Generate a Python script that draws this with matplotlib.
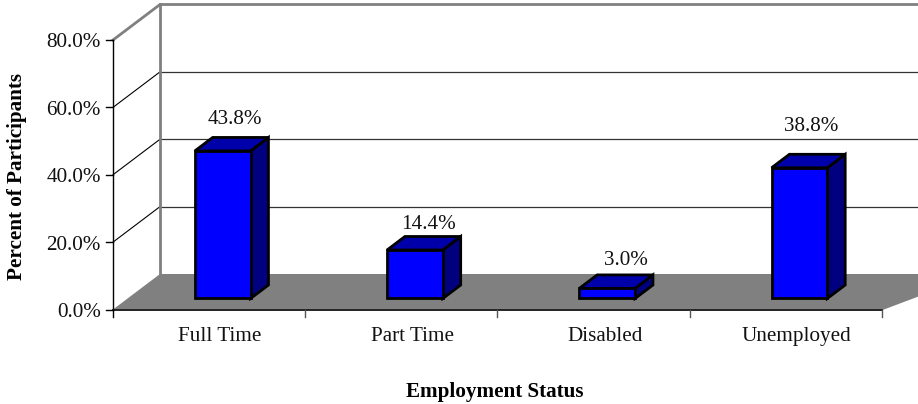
import matplotlib
matplotlib.use("Agg")
import matplotlib.pyplot as plt
from matplotlib.patches import Polygon

# data
categories = ["Full Time", "Part Time", "Disabled", "Unemployed"]
values = [43.8, 14.4, 3.0, 38.8]
yticks = [0, 20, 40, 60, 80]

plt.rcParams['font.family'] = ['Liberation Serif', 'DejaVu Serif']

# pixel layout of the fake 3d box
W, H = 918, 404
x0_px, x1_px = 113, 882
y0_px, y80_px = 309.5, 40
dep_x_px, dep_y_px = 47, 35.5

xs = (x1_px - x0_px) / len(categories)   # px per category
ys = (y0_px - y80_px) / 80.0             # px per percent
dx = dep_x_px / xs
dy = dep_y_px / ys
xmax = (W - x0_px) / xs

# label nudges in px, the labels do not sit at a fixed distance from the bars
label_dx = [-7, -5, 0, -7.5]
label_dy = [18, 12, 14.5, 28]

fig = plt.figure(figsize=(W / 100, H / 100), dpi=100)
ax = fig.add_axes([0, 0, 1, 1])
ax.set_xlim(-x0_px / xs, xmax)
ax.set_ylim((y0_px - H) / ys, y0_px / ys)
ax.axis('off')

n = len(categories)
GRAY = '#808080'
TXT = '#111111'
FS = 15.2


def proj(x, y, d):
    # d is depth, 0 front and 1 back
    return (x + d * dx, y + d * dy)


# floor
ax.add_patch(Polygon([proj(0, 0, 0), proj(n, 0, 0), proj(xmax, 0, (xmax - n) / dx), proj(xmax, 0, 1), proj(0, 0, 1)],
                     closed=True, fc=GRAY, ec='none', zorder=1))

# walls grid
for t in yticks[1:-1]:
    ax.plot(*zip(proj(0, t, 0), proj(0, t, 1)), color='black', lw=0.8, zorder=2)
    ax.plot(*zip(proj(0, t, 1), proj(xmax, t, 1)), color='#333333', lw=0.9, zorder=2)

top = yticks[-1]
ax.plot(*zip(proj(0, 0, 1), proj(0, top, 1)), color=GRAY, lw=2, zorder=2)
ax.plot(*zip(proj(0, top, 0), proj(0, top, 1), proj(xmax, top, 1)), color=GRAY, lw=2, zorder=2)
ax.plot(*zip(proj(n, 0, 0), proj(xmax, 0, (xmax - n) / dx)), color=GRAY, lw=1, zorder=2)

# axes in front
ax.plot([0, 0], [0, top], color='black', lw=1, zorder=3)
ax.plot([0, n], [0, 0], color='#222222', lw=1.4, zorder=3)
for t in yticks:
    ax.plot([-7 / xs, 0], [t, t], color='black', lw=1, zorder=3)
    ax.text(-12 / xs, t - 3 / ys, "%.1f%%" % t, ha='right', va='center', fontsize=FS, color=TXT)
for i in range(n + 1):
    ax.plot([i, i], [0, -7 / ys], color='black' if i == 0 else '#555555', lw=1, zorder=3)
for i, c in enumerate(categories):
    ax.text(i + 0.5 + 11 / xs, -27 / ys, c, ha='center', va='center', fontsize=FS, color=TXT)

# bars
bw = 0.29
d0, d1 = 0.31, 0.69
for i, v in enumerate(values):
    l = i + 0.5 - bw / 2 - 1 / xs
    r = i + 0.5 + bw / 2 - 1 / xs
    side = [proj(r, 0, d0), proj(r, 0, d1), proj(r, v, d1), proj(r, v, d0)]
    cap = [proj(l, v, d0), proj(r, v, d0), proj(r, v, d1), proj(l, v, d1)]
    front = [proj(l, 0, d0), proj(r, 0, d0), proj(r, v, d0), proj(l, v, d0)]
    for pts, col in [(side, '#000080'), (cap, '#0000AA'), (front, '#0000FF')]:
        ax.add_patch(Polygon(pts, closed=True, fc=col, ec='black', lw=2, joinstyle='miter', zorder=4))
    lx, ly = proj(i + 0.5, v, d1)
    ax.text(lx + label_dx[i] / xs, ly + label_dy[i] / ys, "%.1f%%" % v,
            ha='center', va='center', fontsize=FS, color=TXT, zorder=5)

# axis titles
ax.text((17.5 - x0_px) / xs, (y0_px - 176) / ys, "Percent of Participants", rotation=90,
        ha='center', va='center', fontsize=FS, fontweight='bold')
ax.text((495 - x0_px) / xs, (y0_px - 392.5) / ys, "Employment Status", ha='center', va='center',
        fontsize=FS, fontweight='bold')

fig.savefig("out.png", dpi=100)
